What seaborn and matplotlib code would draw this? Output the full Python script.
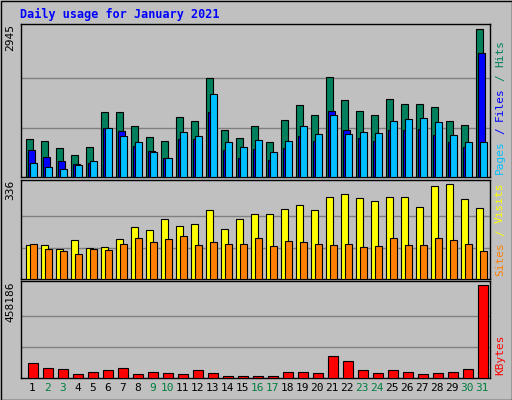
import matplotlib
matplotlib.use("Agg")
import matplotlib.pyplot as plt
import seaborn as sns
import numpy as np

days = list(range(1, 32))
hits = [761,721,581,441,601,1302,1302,1022,801,721,1202,1122,1963,942,781,1022,701,1142,1442,1242,1983,1523,1322,1242,1543,1462,1462,1402,1122,1042,2945]
files = [541,401,321,260,280,982,922,621,521,381,761,761,1302,541,381,561,341,581,821,721,1322,942,781,721,942,942,962,841,701,601,2464]
pages = [280,200,160,240,321,982,821,701,501,381,902,821,1643,701,601,741,501,721,1022,861,1242,861,902,881,1122,1162,1182,1102,841,701,701]
visits = [120,120,106,139,110,113,142,186,175,215,190,197,245,179,215,230,230,248,263,245,292,303,288,278,292,292,256,329,336,285,252]
sites = [124,106,99,88,106,102,124,146,131,142,153,120,131,124,124,146,117,135,131,124,120,124,113,117,146,120,120,146,139,124,99]
kbytes = [75500,50300,45300,20100,30200,40300,50300,20100,30200,25200,20100,40300,25200,10100,10100,10100,10100,30200,30200,25200,110700,85600,40300,25200,40300,30200,20100,25200,30200,45300,458186]
weekend = [2,3,9,10,16,17,23,24,30,31]

BG = "#C0C0C0"
sns.set_theme(style="white")
plt.rcParams['font.family'] = ['DejaVu Sans Mono']
fig = plt.figure(figsize=(5.12, 4.0), dpi=100, facecolor=BG)
W, H = 512, 400

def axes(top, bot):
    ax = fig.add_axes([21/W, (H-bot)/H, 469/W, (bot-top)/H])
    ax.set_facecolor(BG)
    for s in ax.spines.values():
        s.set_color("black"); s.set_linewidth(1)
    return ax

d = np.array(days, dtype=float)

def bars(ax, vals, off, width, color):
    sns.barplot(x=d + off, y=vals, native_scale=True, width=width, color=color,
                edgecolor="black", linewidth=0.8, saturation=1, ax=ax, zorder=3)

ax1 = axes(24, 177)
ax1.set_ylim(0, 3045)
for g in (982, 1963):
    ax1.axhline(g, color="#808080", lw=1, zorder=1)
bars(ax1, hits, 0.245, 0.49, "#00805C")
bars(ax1, files, 0.375, 0.49, "#0000FF")
bars(ax1, pages, 0.515, 0.49, "#00C0FF")

ax2 = axes(180, 279)
ax2.set_ylim(0, 352)
for g in (112, 224):
    ax2.axhline(g, color="#808080", lw=1, zorder=1)
bars(ax2, visits, 0.245, 0.49, "#FFFF00")
bars(ax2, sites, 0.515, 0.49, "#FF8000")

ax3 = axes(281, 378)
ax3.set_ylim(0, 478300)
for g in (152729, 305457):
    ax3.axhline(g, color="#808080", lw=1, zorder=1)
bars(ax3, kbytes, 0.49, 0.67, "#FF0000")

for ax in (ax1, ax2, ax3):
    ax.set_xlabel(""); ax.set_ylabel("")
    ax.set_xlim(0.69, 31.96)
    ax.set_xticks([]); ax.set_yticks([])

for dd in days:
    ax3.text(dd + 0.45, -0.1, str(dd), transform=ax3.get_xaxis_transform(),
             ha="center", va="center", fontsize=8,
             color="#008040" if dd in weekend else "black")

fig.text(20/W, 1 - 14/H, "Daily usage for January 2021", color="#0000FF",
         fontsize=8.5, fontweight="bold", va="center", ha="left")

for ax, lab in ((ax1, "2945"), (ax2, "336"), (ax3, "458186")):
    ax.text(-0.012, 1.0, lab, transform=ax.transAxes, rotation=90,
            ha="right", va="top", fontsize=8, color="black")

CH = 6.67  # px per char at 8pt mono
def side(parts, ybot_px):
    x = 500/W
    pos = ybot_px
    for txt, col, gap in parts:
        fig.text(x, (H - pos)/H, txt, rotation=90, color=col, fontsize=8,
                 ha="center", va="bottom")
        pos -= len(txt) * CH + gap

side([("Pages", "#00C0FF", CH), ("/", "#0000FF", CH), ("Files", "#0000FF", CH),
      ("/", "#00805C", CH), ("Hits", "#00805C", 0)], 174)
side([("Sites", "#FF8000", CH), ("/", "#FFFF00", CH), ("Visits", "#FFFF00", 0)], 276)
side([("KBytes", "#FF0000", 0)], 375)

fig.patches.append(plt.Rectangle((0.5/W, 0.5/H), 1-1/W, 1-1/H, transform=fig.transFigure,
                                 fill=False, edgecolor="black", lw=1))
fig.savefig("out.png", dpi=100, facecolor=BG)
